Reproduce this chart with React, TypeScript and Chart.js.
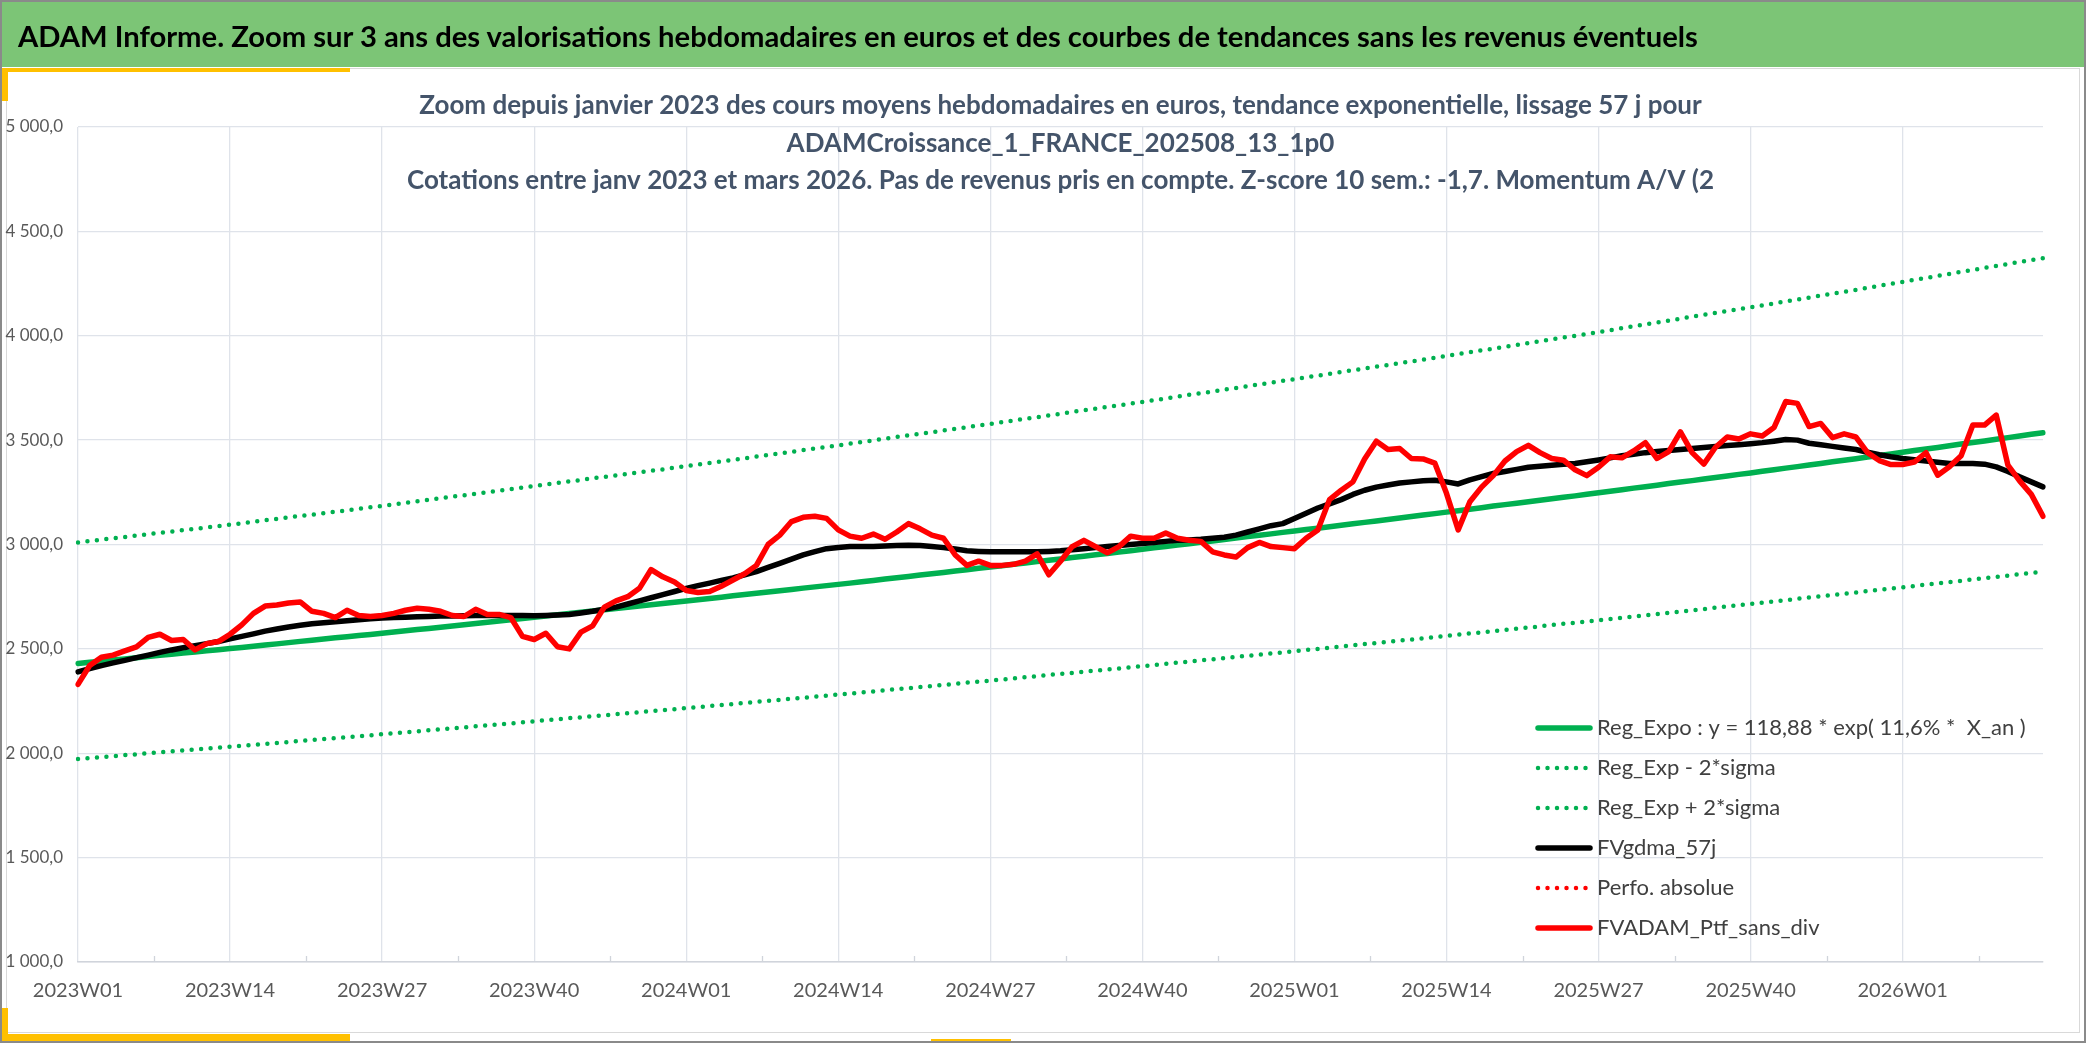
import React, { useEffect, useRef } from "react";
import { Chart, registerables } from "chart.js";

Chart.register(...registerables);

// ---------- categories ----------
const YEARS = [2023, 2024, 2025, 2026];
const WEEKS_IN_VIEW = [52, 52, 52, 13];
const categories: string[] = [];
YEARS.forEach((y, k) => {
  for (let w = 1; w <= WEEKS_IN_VIEW[k]; w++) categories.push(`${y}W${String(w).padStart(2, "0")}`);
});
const LABEL_EVERY = 13;

// ---------- series ----------
const regExpo = [
  2430, 2436, 2441, 2447, 2452, 2458, 2463, 2469, 2474, 2480, 2485, 2491, 2496,
  2502, 2507, 2513, 2519, 2524, 2530, 2536, 2541, 2547, 2553, 2558, 2564, 2569,
  2575, 2581, 2587, 2593, 2598, 2604, 2610, 2616, 2622, 2628, 2633, 2639, 2645,
  2651, 2657, 2663, 2669, 2675, 2681, 2687, 2693, 2699, 2705, 2711, 2717, 2723,
  2729, 2735, 2741, 2747, 2754, 2760, 2766, 2772, 2778, 2784, 2791, 2797, 2803,
  2809, 2815, 2822, 2828, 2835, 2841, 2847, 2854, 2860, 2866, 2873, 2879, 2886,
  2892, 2898, 2905, 2911, 2918, 2925, 2931, 2938, 2944, 2951, 2957, 2964, 2970,
  2977, 2984, 2990, 2997, 3004, 3011, 3017, 3024, 3031, 3038, 3044, 3051, 3058,
  3065, 3072, 3078, 3085, 3092, 3099, 3106, 3113, 3120, 3127, 3134, 3141, 3148,
  3155, 3162, 3169, 3176, 3184, 3191, 3198, 3205, 3212, 3219, 3226, 3233, 3241,
  3248, 3255, 3262, 3270, 3277, 3284, 3292, 3299, 3306, 3314, 3321, 3328, 3336,
  3343, 3351, 3358, 3366, 3373, 3381, 3388, 3396, 3404, 3411, 3419, 3426, 3434,
  3442, 3450, 3457, 3465, 3473, 3481, 3489, 3496, 3504, 3512, 3520, 3528, 3535,
];

const regLow = [
  1973, 1977, 1982, 1986, 1991, 1995, 2000, 2004, 2009, 2013, 2018, 2022, 2027,
  2031, 2036, 2040, 2045, 2049, 2054, 2059, 2063, 2068, 2073, 2077, 2082, 2086,
  2091, 2096, 2101, 2105, 2110, 2115, 2120, 2124, 2129, 2134, 2139, 2143, 2148,
  2153, 2158, 2163, 2168, 2172, 2177, 2182, 2187, 2192, 2197, 2202, 2206, 2211,
  2216, 2221, 2226, 2231, 2236, 2241, 2246, 2251, 2256, 2261, 2266, 2271, 2276,
  2281, 2286, 2291, 2296, 2302, 2307, 2312, 2317, 2322, 2327, 2333, 2338, 2343,
  2348, 2353, 2359, 2364, 2369, 2375, 2380, 2385, 2390, 2396, 2401, 2406, 2412,
  2417, 2423, 2428, 2434, 2439, 2445, 2450, 2456, 2461, 2467, 2472, 2478, 2483,
  2489, 2495, 2500, 2506, 2511, 2517, 2523, 2528, 2534, 2540, 2545, 2551, 2556,
  2562, 2568, 2574, 2579, 2585, 2591, 2597, 2602, 2608, 2614, 2620, 2625, 2631,
  2637, 2643, 2649, 2655, 2661, 2667, 2673, 2679, 2685, 2691, 2697, 2703, 2709,
  2715, 2721, 2727, 2733, 2740, 2746, 2752, 2758, 2764, 2770, 2777, 2783, 2789,
  2795, 2801, 2808, 2814, 2820, 2826, 2833, 2839, 2845, 2851, 2858, 2864, 2870,
];

const regHigh = [
  3010, 3017, 3023, 3030, 3036, 3043, 3049, 3056, 3062, 3069, 3075, 3082, 3088,
  3095, 3102, 3109, 3116, 3123, 3130, 3137, 3143, 3150, 3157, 3164, 3171, 3178,
  3185, 3192, 3200, 3207, 3214, 3222, 3229, 3236, 3243, 3251, 3258, 3265, 3273,
  3280, 3287, 3295, 3302, 3309, 3317, 3324, 3331, 3338, 3346, 3353, 3360, 3368,
  3375, 3383, 3390, 3398, 3406, 3413, 3421, 3429, 3437, 3444, 3452, 3460, 3467,
  3475, 3483, 3491, 3499, 3507, 3515, 3523, 3530, 3538, 3546, 3554, 3562, 3570,
  3578, 3586, 3594, 3602, 3610, 3618, 3626, 3635, 3643, 3651, 3659, 3667, 3675,
  3683, 3691, 3700, 3708, 3717, 3725, 3733, 3742, 3750, 3758, 3767, 3775, 3784,
  3792, 3801, 3809, 3818, 3826, 3835, 3843, 3852, 3860, 3869, 3877, 3886, 3894,
  3903, 3912, 3921, 3930, 3938, 3947, 3956, 3965, 3974, 3983, 3992, 4000, 4009,
  4018, 4027, 4036, 4045, 4054, 4063, 4072, 4082, 4091, 4100, 4109, 4118, 4127,
  4136, 4145, 4155, 4164, 4174, 4183, 4192, 4202, 4211, 4220, 4230, 4239, 4249,
  4258, 4268, 4277, 4287, 4296, 4306, 4315, 4325, 4334, 4344, 4353, 4363, 4372,
];

const fvgdma57 = [
  2390, 2405, 2420, 2433, 2445, 2458, 2470, 2483, 2495, 2505, 2515, 2525, 2535,
  2548, 2560, 2572, 2585, 2595, 2605, 2613, 2620, 2625, 2630, 2635, 2640, 2644,
  2648, 2650, 2652, 2654, 2655, 2657, 2658, 2659, 2660, 2660, 2660, 2660, 2660,
  2659, 2660, 2662, 2665, 2672, 2680, 2690, 2700, 2715, 2730, 2745, 2760, 2775,
  2790, 2803, 2815, 2828, 2840, 2855, 2870, 2890, 2910, 2930, 2950, 2966, 2980,
  2986, 2990, 2990, 2990, 2993, 2995, 2996, 2995, 2990, 2985, 2978, 2970, 2967,
  2965, 2965, 2965, 2965, 2965, 2967, 2970, 2975, 2980, 2985, 2990, 2995, 3000,
  3005, 3010, 3015, 3020, 3022, 3025, 3030, 3035, 3045, 3060, 3075, 3090, 3100,
  3125, 3150, 3175, 3195, 3215, 3240, 3260, 3275, 3285, 3295, 3300, 3305, 3308,
  3300, 3290, 3310, 3325, 3340, 3350, 3360, 3370, 3375, 3380, 3384, 3388, 3396,
  3405, 3415, 3425, 3432, 3440, 3445, 3450, 3455, 3460, 3465, 3470, 3474, 3478,
  3483, 3488, 3495, 3503, 3500, 3485, 3478, 3470, 3462, 3455, 3442, 3430, 3420,
  3412, 3406, 3400, 3394, 3388, 3388, 3388, 3385, 3372, 3350, 3324, 3300, 3276,
];

const perfoAbsolue: number[] = [];

const fvadamSansDiv = [
  2330, 2420, 2460, 2470, 2490, 2510, 2555, 2570, 2540, 2545, 2495, 2525, 2535,
  2570, 2615, 2670, 2705, 2710, 2720, 2725, 2680, 2670, 2650, 2685, 2660, 2655,
  2660, 2670, 2685, 2695, 2690, 2680, 2660, 2655, 2690, 2665, 2665, 2650, 2560,
  2545, 2575, 2510, 2500, 2580, 2610, 2700, 2730, 2750, 2790, 2880, 2845, 2820,
  2780, 2770, 2775, 2800, 2830, 2860, 2900, 3000, 3045, 3110, 3130, 3135, 3125,
  3070, 3040, 3030, 3050, 3025, 3060, 3100, 3075, 3045, 3030, 2950, 2900, 2920,
  2900, 2900, 2905, 2920, 2955, 2855, 2920, 2990, 3020, 2990, 2960, 2990, 3040,
  3030, 3030, 3055, 3030, 3020, 3015, 2965, 2950, 2940, 2985, 3010, 2990, 2985,
  2980, 3030, 3070, 3215, 3260, 3300, 3410, 3495, 3455, 3460, 3412, 3410, 3390,
  3245, 3070, 3205, 3275, 3330, 3400, 3445, 3475, 3440, 3412, 3404, 3358, 3330,
  3370, 3420, 3415, 3448, 3488, 3412, 3445, 3540, 3440, 3385, 3466, 3515, 3505,
  3530, 3520, 3560, 3685, 3676, 3565, 3580, 3512, 3530, 3515, 3440, 3402, 3383,
  3383, 3395, 3440, 3332, 3372, 3425, 3572, 3572, 3620, 3380, 3305, 3240, 3135,
];

const Y_MIN = 1000;
const Y_MAX = 5000;
const Y_STEP = 500;

const HEADER_TITLE =
  "ADAM Informe. Zoom sur 3 ans des valorisations hebdomadaires en euros et des courbes de tendances sans les revenus éventuels";
const CHART_TITLE = [
  "Zoom depuis janvier 2023 des cours moyens hebdomadaires en euros, tendance exponentielle, lissage 57 j pour",
  "ADAMCroissance_1_FRANCE_202508_13_1p0",
  "Cotations entre janv 2023 et mars 2026. Pas de revenus pris en compte. Z-score 10 sem.: -1,7. Momentum A/V (2",
];
const LEGEND_LABELS = [
  "Reg_Expo : y = 118,88 * exp( 11,6% *  X_an )",
  "Reg_Exp - 2*sigma",
  "Reg_Exp + 2*sigma",
  "FVgdma_57j",
  "Perfo. absolue",
  "FVADAM_Ptf_sans_div",
];

// ---------- styling ----------
const W = 2086;
const H = 1043;
const GREEN = "#00b050";
const RED = "#ff0000";
const GRID = "#dfe3ea";
const DOT = [0, 9.5];
const FONT = "Lato, 'Open Sans', sans-serif";

const fmtY = (v: number) => {
  const th = Math.floor(v / 1000);
  const rest = String(Math.round(v % 1000)).padStart(3, "0");
  return `${th} ${rest},0`;
};

const minorTicks = {
  id: "minorTicks",
  afterDraw(chart: any) {
    const { ctx, chartArea, scales } = chart;
    const x = scales.x;
    ctx.save();
    ctx.strokeStyle = "#d0d4db";
    ctx.lineWidth = 1.3;
    for (let v = LABEL_EVERY / 2; v < categories.length; v += LABEL_EVERY) {
      const px = Math.round(x.getPixelForValue(v)) + 0.5;
      ctx.beginPath();
      ctx.moveTo(px, chartArea.bottom - 6);
      ctx.lineTo(px, chartArea.bottom);
      ctx.stroke();
    }
    ctx.restore();
  },
};

const chartTitle = {
  id: "chartTitle",
  afterDraw(chart: any) {
    const { ctx, chartArea } = chart;
    const cx = (chartArea.left + chartArea.right) / 2;
    ctx.save();
    ctx.fillStyle = "#44546a";
    ctx.font = `bold 26px ${FONT}`;
    ctx.textAlign = "center";
    ctx.textBaseline = "middle";
    CHART_TITLE.forEach((line, i) => {
      ctx.fillText(line, cx, chartArea.top - 21 + i * 37.5);
    });
    ctx.restore();
  },
};

const insideLegend = {
  id: "insideLegend",
  afterDraw(chart: any) {
    const { ctx } = chart;
    const top = 728;
    const gap = 40;
    const x0 = 1538;
    const x1 = 1590;
    ctx.save();
    chart.data.datasets.forEach((ds: any, i: number) => {
      const y = top + i * gap;
      ctx.beginPath();
      ctx.strokeStyle = ds.borderColor;
      ctx.lineWidth = ds.borderWidth;
      ctx.lineCap = "round";
      ctx.setLineDash(ds.borderDash || []);
      ctx.moveTo(x0, y);
      ctx.lineTo(x1, y);
      ctx.stroke();
      ctx.setLineDash([]);
      ctx.fillStyle = "#404040";
      ctx.font = `22px ${FONT}`;
      ctx.textAlign = "left";
      ctx.textBaseline = "middle";
      ctx.fillText(ds.label, 1597, y);
    });
    ctx.restore();
  },
};

export default function App() {
  const ref = useRef<HTMLCanvasElement>(null);

  useEffect(() => {
    if (!ref.current) return;
    Chart.defaults.font.family = FONT;
    const common = { pointRadius: 0, pointHoverRadius: 0, tension: 0, borderJoinStyle: "round" as const, borderCapStyle: "round" as const, fill: false };
    const chart = new Chart(ref.current, {
      type: "line",
      data: {
        labels: categories,
        datasets: [
          { ...common, label: LEGEND_LABELS[0], data: regExpo, borderColor: GREEN, borderWidth: 5.5, order: 6 },
          { ...common, label: LEGEND_LABELS[1], data: regLow, borderColor: GREEN, borderWidth: 4.5, borderDash: DOT, order: 5 },
          { ...common, label: LEGEND_LABELS[2], data: regHigh, borderColor: GREEN, borderWidth: 4.5, borderDash: DOT, order: 4 },
          { ...common, label: LEGEND_LABELS[3], data: fvgdma57, borderColor: "#000000", borderWidth: 5.5, order: 3 },
          { ...common, label: LEGEND_LABELS[4], data: perfoAbsolue, borderColor: RED, borderWidth: 4.5, borderDash: DOT, order: 2 },
          { ...common, label: LEGEND_LABELS[5], data: fvadamSansDiv, borderColor: RED, borderWidth: 5.5, order: 1 },
        ],
      },
      options: {
        animation: false,
        responsive: false,
        devicePixelRatio: 1,
        events: [],
        layout: { padding: { left: 0, right: 43, top: 127, bottom: 0 } },
        plugins: { legend: { display: false }, tooltip: { enabled: false }, title: { display: false } },
        scales: {
          x: {
            type: "category",
            offset: false,
            afterFit: (s: any) => { s.height = 81; },
            grid: {
              color: (c: any) => (c.index % LABEL_EVERY === 0 ? GRID : "rgba(0,0,0,0)"),
              lineWidth: 1.3,
              drawTicks: false,
            },
            border: { display: true, color: "#d0d4db", width: 1.5 },
            ticks: {
              autoSkip: false,
              maxRotation: 0,
              minRotation: 0,
              padding: 17,
              color: "#595959",
              font: { size: 20, family: FONT },
              callback: (_v: any, i: number) => (i % LABEL_EVERY === 0 ? categories[i] : ""),
            },
          },
          y: {
            min: Y_MIN,
            max: Y_MAX,
            afterFit: (s: any) => { s.width = 78; },
            grid: { color: GRID, lineWidth: 1.3, drawTicks: false },
            border: { display: false },
            ticks: {
              stepSize: Y_STEP,
              padding: 15,
              color: "#595959",
              font: { size: 17, family: FONT },
              callback: (v: any) => fmtY(Number(v)),
            },
          },
        },
      },
      plugins: [minorTicks, chartTitle, insideLegend],
    });
    return () => chart.destroy();
  }, []);

  const abs = (s: React.CSSProperties): React.CSSProperties => ({ position: "absolute", ...s });

  return (
    <div style={{ position: "fixed", left: 0, top: 0, width: W, height: H, background: "#ffffff", overflow: "hidden", fontFamily: FONT }}>
      <div style={abs({ left: 0, top: 0, width: W, height: 67, background: "#7cc576" })} />
      <div style={abs({ left: 6, top: 68, width: 2074, height: 965, border: "1.5px solid #d9d9d9", boxSizing: "border-box" })} />
      <div style={abs({ left: 2, top: 68, width: 348, height: 4, background: "#ffc000" })} />
      <div style={abs({ left: 2, top: 68, width: 6, height: 33, background: "#ffc000" })} />
      <div style={abs({ left: 2, top: 1008, width: 6, height: 34, background: "#ffc000" })} />
      <div style={abs({ left: 2, top: 1034, width: 348, height: 8, background: "#ffc000" })} />
      <div style={abs({ left: 931, top: 1039, width: 80, height: 4, background: "#ffc000" })} />
      <canvas ref={ref} width={W} height={H} style={abs({ left: 0, top: 0, width: W, height: H })} />
      <div
        style={abs({
          left: 18,
          top: 0,
          height: 67,
          lineHeight: "72px",
          fontSize: 29.2,
          fontWeight: 700,
          color: "#000000",
          whiteSpace: "nowrap",
          fontFamily: FONT,
        })}
      >
        {HEADER_TITLE}
      </div>
      <div style={abs({ left: 0, top: 0, width: W, height: H, border: "2px solid #8a8a8a", boxSizing: "border-box", pointerEvents: "none" })} />
    </div>
  );
}
